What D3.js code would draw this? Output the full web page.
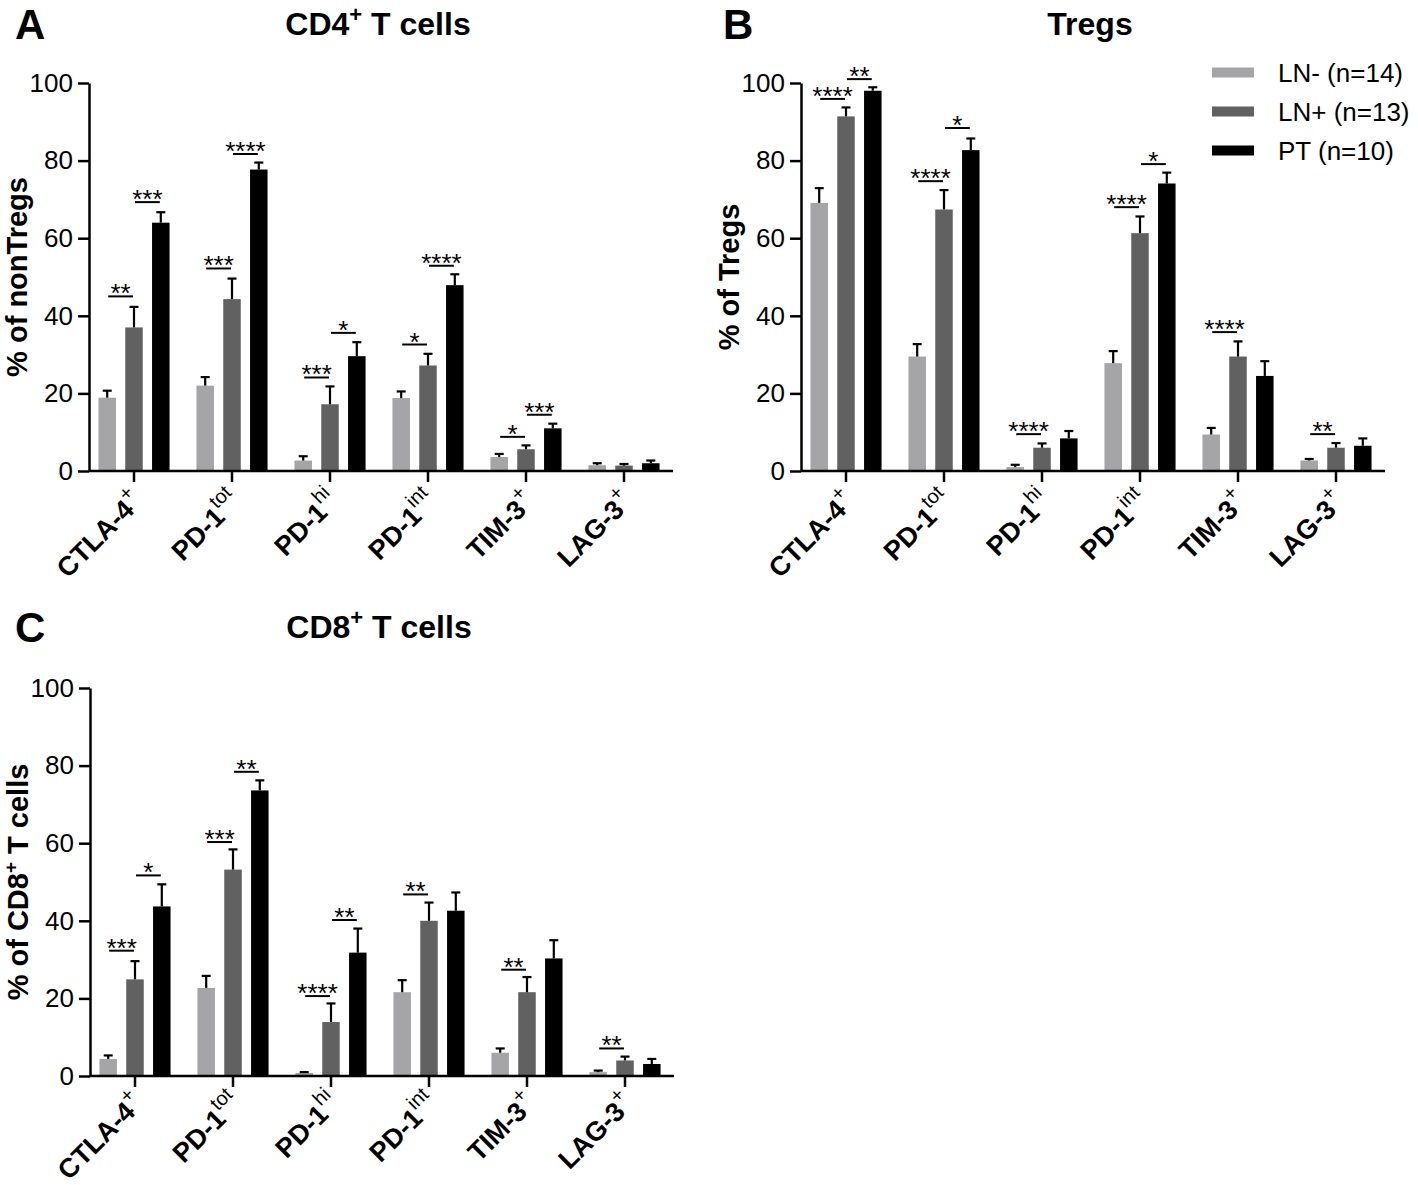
<!DOCTYPE html>
<html>
<head>
<meta charset="utf-8">
<script src="https://cdn.jsdelivr.net/npm/d3@7"></script>
<style>
  html, body { margin: 0; padding: 0; background: #fff; }
  svg { display: block; }
  text { font-family: "Liberation Sans", Arial, sans-serif; }
</style>
</head>
<body>
<svg id="chart" width="1418" height="1185"></svg>
<script>
// ---------- DATA ----------
const categories = ["CTLA-4", "PD-1", "PD-1", "PD-1", "TIM-3", "LAG-3"];
const categorySups = ["+", "tot", "hi", "int", "+", "+"];
const groups = ["LN- (n=14)", "LN+ (n=13)", "PT (n=10)"];
const groupColors = ["#a5a5a8", "#616161", "#000000"];
const yTicks = [0, 20, 40, 60, 80, 100];

// Panel A: CD4+ T cells (% of nonTregs)
const cd4LnNeg = [18.9, 22.0, 2.7, 18.8, 3.6, 1.5];
const cd4LnPos = [37.0, 44.3, 17.2, 27.2, 5.6, 1.4];
const cd4Pt    = [64.0, 77.7, 29.6, 47.9, 11.0, 2.0];
const cd4LnNegSem = [1.8, 2.2, 1.1, 1.7, 0.8, 0.5];
const cd4LnPosSem = [5.3, 5.3, 4.6, 3.0, 1.0, 0.4];
const cd4PtSem    = [2.7, 1.8, 3.6, 2.8, 1.2, 0.7];
// [category index, from group, to group, label, y value]
const cd4Sig = [
  [0, 0, 1, "**", 45.0], [0, 1, 2, "***", 69.3],
  [1, 0, 1, "***", 52.2], [1, 1, 2, "****", 81.7],
  [2, 0, 1, "***", 24.1], [2, 1, 2, "*", 35.6],
  [3, 0, 1, "*", 32.6], [3, 1, 2, "****", 52.9],
  [4, 0, 1, "*", 8.8], [4, 1, 2, "***", 14.5]
];

// Panel B: Tregs (% of Tregs)
const tregLnNeg = [69.1, 29.5, 1.0, 27.8, 9.4, 2.7];
const tregLnPos = [91.4, 67.4, 6.0, 61.3, 29.5, 6.0];
const tregPt    = [98.0, 82.7, 8.4, 74.1, 24.5, 6.5];
const tregLnNegSem = [3.8, 3.2, 0.6, 3.1, 1.7, 0.4];
const tregLnPosSem = [2.3, 5.0, 1.1, 4.3, 3.9, 1.2];
const tregPtSem    = [0.9, 3.0, 1.9, 2.8, 3.8, 1.9];
const tregSig = [
  [0, 0, 1, "****", 95.9], [0, 1, 2, "**", 101.0],
  [1, 0, 1, "****", 74.7], [1, 1, 2, "*", 88.4],
  [2, 0, 1, "****", 9.5],
  [3, 0, 1, "****", 68.0], [3, 1, 2, "*", 79.1],
  [4, 0, 1, "****", 35.8],
  [5, 0, 1, "**", 9.5]
];

// Panel C: CD8+ T cells (% of CD8+ T cells)
const cd8LnNeg = [4.4, 22.7, 0.8, 21.6, 6.0, 1.0];
const cd8LnPos = [24.9, 53.2, 13.9, 40.0, 21.6, 4.0];
const cd8Pt    = [43.7, 73.6, 31.8, 42.6, 30.3, 3.1];
const cd8LnNegSem = [0.9, 3.1, 0.2, 3.1, 1.1, 0.4];
const cd8LnPosSem = [4.7, 5.2, 4.8, 4.7, 3.9, 1.0];
const cd8PtSem    = [5.7, 2.6, 6.2, 4.7, 4.7, 1.3];
const cd8Sig = [
  [0, 0, 1, "***", 32.3], [0, 1, 2, "*", 51.7],
  [1, 0, 1, "***", 60.3], [1, 1, 2, "**", 78.4],
  [2, 0, 1, "****", 20.6], [2, 1, 2, "**", 40.2],
  [3, 0, 1, "**", 46.8],
  [4, 0, 1, "**", 27.4],
  [5, 0, 1, "**", 7.1]
];

// ---------- LAYOUT ----------
const panels = [
  { letter: "A", title: ["CD4", "+", " T cells"], ylab: ["% of nonTregs"],
    values: [cd4LnNeg, cd4LnPos, cd4Pt], sems: [cd4LnNegSem, cd4LnPosSem, cd4PtSem], sig: cd4Sig,
    bandRange: [85, 673], axisX: 89, yTop: 83, yBot: 471, letterX: 15, headY: 38, labDy: 32 },
  { letter: "B", title: ["Tregs"], ylab: ["% of Tregs"],
    values: [tregLnNeg, tregLnPos, tregPt], sems: [tregLnNegSem, tregLnPosSem, tregPtSem], sig: tregSig,
    bandRange: [797, 1385], axisX: 801, yTop: 83, yBot: 471, letterX: 723, headY: 38, legend: true, labDy: 32 },
  { letter: "C", title: ["CD8", "+", " T cells"], ylab: ["% of CD8", "+", " T cells"],
    values: [cd8LnNeg, cd8LnPos, cd8Pt], sems: [cd8LnNegSem, cd8LnPosSem, cd8PtSem], sig: cd8Sig,
    bandRange: [86, 674], axisX: 90, yTop: 688, yBot: 1076, letterX: 15, headY: 641, labDy: 29 }
];

const svg = d3.select("#chart");

function supText(sel, parts, supSize, supDy) {
  parts.forEach((p, i) => {
    const isSup = i % 2 === 1;
    const t = sel.append("tspan").text(p);
    if (isSup) {
      t.attr("font-size", supSize).attr("dy", -supDy);
    } else if (i > 0) {
      t.attr("dy", supDy);
    }
  });
}

panels.forEach(P => {
  const g = svg.append("g");
  const idx = d3.range(categories.length);
  const x = d3.scaleBand().domain(idx).range(P.bandRange).paddingInner(0).paddingOuter(0);
  const x1 = d3.scaleBand().domain([0, 1, 2]).range([-35.55, 35.55]).paddingInner(0.347).paddingOuter(0);
  const y = d3.scaleLinear().domain([0, 100]).range([P.yBot, P.yTop]);
  const cx = (c, k) => x(c) + x.bandwidth() / 2 + x1(k) + x1.bandwidth() / 2;

  // Panel letter and title
  g.append("text").attr("x", P.letterX).attr("y", P.headY + 1)
    .attr("font-size", 42).attr("font-weight", "bold").text(P.letter);
  const tt = g.append("text")
    .attr("x", (P.bandRange[0] + P.bandRange[1]) / 2 - 1).attr("y", P.headY - 3)
    .attr("text-anchor", "middle").attr("font-size", 32).attr("font-weight", "bold");
  supText(tt, P.title, 22, 13);

  // Y axis label
  const yl = g.append("text")
    .attr("transform", `translate(${P.axisX - 62},${(P.yTop + P.yBot) / 2}) rotate(-90)`)
    .attr("text-anchor", "middle").attr("font-size", 29).attr("font-weight", "bold");
  supText(yl, P.ylab, 19, 11);

  // Bars
  P.values.forEach((vals, k) => {
    g.append("g").selectAll("rect").data(idx).join("rect")
      .attr("x", c => cx(c, k) - x1.bandwidth() / 2)
      .attr("width", x1.bandwidth())
      .attr("y", c => y(vals[c]))
      .attr("height", c => y(0) - y(vals[c]))
      .attr("fill", groupColors[k]);
  });

  // Error bars (upper only)
  P.values.forEach((vals, k) => {
    const eg = g.append("g").attr("stroke", "#000").attr("stroke-width", 2.2);
    idx.forEach(c => {
      const top = y(vals[c] + P.sems[k][c]);
      const xc = cx(c, k);
      eg.append("line").attr("x1", xc).attr("x2", xc).attr("y1", y(vals[c])).attr("y2", top);
      eg.append("line").attr("x1", xc - 4.5).attr("x2", xc + 4.5).attr("y1", top).attr("y2", top);
    });
  });

  // Y axis
  const yAxis = d3.axisLeft(y).tickValues(yTicks).tickSize(11).tickSizeOuter(0).tickPadding(5);
  const ya = g.append("g").attr("transform", `translate(${P.axisX},0)`).call(yAxis);
  ya.selectAll("path, line").attr("stroke", "#000").attr("stroke-width", 2.5);
  ya.selectAll("text").attr("font-size", 26).attr("fill", "#000")
    .attr("font-family", "'Liberation Sans', Arial, sans-serif");

  // X axis
  g.append("line").attr("x1", P.axisX).attr("x2", P.bandRange[1])
    .attr("y1", y(0)).attr("y2", y(0)).attr("stroke", "#000").attr("stroke-width", 2.5);
  idx.forEach(c => {
    const xc = x(c) + x.bandwidth() / 2;
    g.append("line").attr("x1", xc).attr("x2", xc).attr("y1", y(0)).attr("y2", y(0) + 11)
      .attr("stroke", "#000").attr("stroke-width", 2.5);
    const lab = g.append("text")
      .attr("transform", `translate(${xc + 10},${y(0) + P.labDy}) rotate(-45)`)
      .attr("text-anchor", "end").attr("font-size", 27).attr("font-weight", "bold");
    lab.append("tspan").text(categories[c]);
    lab.append("tspan").text(categorySups[c]).attr("font-size", 20).attr("font-weight", "normal")
      .attr("dy", -13);
  });

  // Significance brackets
  P.sig.forEach(([c, a, b, label, v]) => {
    const xa = cx(c, a) + 1, xb = cx(c, b) - 1, yy = y(v);
    g.append("line").attr("x1", xa).attr("x2", xb).attr("y1", yy).attr("y2", yy)
      .attr("stroke", "#000").attr("stroke-width", 2);
    g.append("text").attr("x", (xa + xb) / 2).attr("y", yy + 6)
      .attr("text-anchor", "middle").attr("font-size", 26).text(label);
  });

  // Legend
  if (P.legend) {
    groups.forEach((name, k) => {
      const cy = 72.5 + k * 39;
      g.append("rect").attr("x", 1212).attr("y", cy - 5).attr("width", 42).attr("height", 10)
        .attr("fill", groupColors[k]);
      g.append("text").attr("x", 1278).attr("y", cy + 9.5).attr("font-size", 26).text(name);
    });
  }
});
</script>
</body>
</html>
